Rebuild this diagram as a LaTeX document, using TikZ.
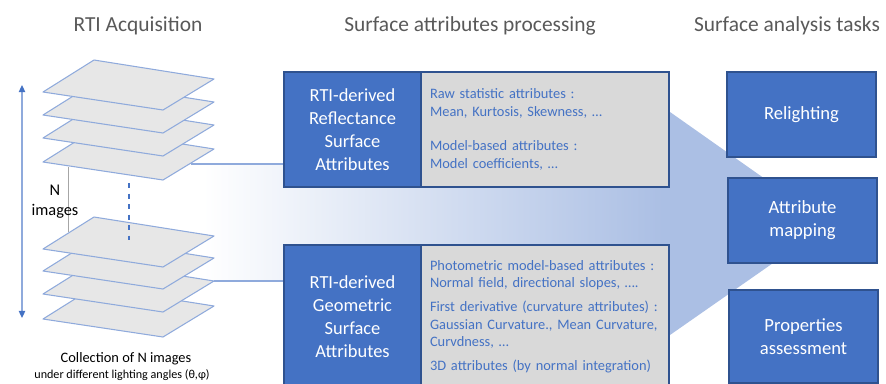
\documentclass[tikz,border=0pt]{standalone}
\usepackage{fontspec}
\setmainfont{Carlito}
\usepackage{tikz}
\usetikzlibrary{arrows.meta,positioning,calc}
\definecolor{boxblue}{HTML}{4472C4}
\definecolor{edgeblue}{HTML}{2F528F}
\definecolor{lineblue}{HTML}{8FAADC}
\definecolor{bandblue}{HTML}{ABBFE4}
\definecolor{boxgray}{HTML}{D9D9D9}
\definecolor{sheetgray}{HTML}{E7E7E7}
\definecolor{titlegray}{HTML}{595959}
\definecolor{guidegray}{HTML}{A6A6A6}
\pgfdeclarehorizontalshading{bandshade}{100bp}{color(0bp)=(white); color(26bp)=(white); color(62bp)=(bandblue); color(100bp)=(bandblue)}

\begin{document}
\begin{tikzpicture}[
 x=0.02cm,y=-0.02cm,
 heading/.style={font=\fontsize{12.2}{14}\selectfont,text=titlegray},
 family/.style={draw=edgeblue,line width=0.6pt,fill=boxblue,text=white,align=center,minimum width=2.74cm,font=\fontsize{10.5}{13}\selectfont},
 attrlist/.style={draw=edgeblue,line width=0.6pt,fill=boxgray,text=boxblue,align=left,text width=4.6cm,inner xsep=0.18cm,font=\fontsize{8.2}{10.4}\selectfont},
 task/.style={draw=edgeblue,line width=0.6pt,fill=boxblue,text=white,align=center,minimum width=2.98cm,minimum height=1.7cm,font=\fontsize{10.6}{13}\selectfont},
 sheet/.style={draw=lineblue,line width=0.6pt,fill=sheetgray,line join=round},
 link/.style={draw=lineblue,line width=0.7pt}
]
\useasboundingbox (0,0) rectangle (886,383);
\clip (0,0) rectangle (886,383);

\node[heading] (hacq) at (138,26) {RTI Acquisition};
\node[heading] (hproc) at (470,26) {Surface attributes processing};
\node[heading] (htask) at (787,26) {Surface analysis tasks};

% big arrow towards the tasks
\shade[shading=bandshade] (190,164) -- (670,164) -- (670,112) -- (829,224)
  -- (670,335) -- (670,281) -- (190,281) -- cycle;

\coordinate (topout) at (191,164);
\coordinate (botout) at (214,281);

% image stacks
\foreach \y in {162,138,115,92}
  \filldraw[sheet] (43,\y) -- ++(51,-32) -- ++(120,19) -- ++(-51,31) -- cycle;
\foreach \y in {319,294,271,249}
  \filldraw[sheet] (43,\y) -- ++(51,-32) -- ++(120,19) -- ++(-51,31) -- cycle;

\coordinate (ntop) at (22,85);
\coordinate (nbot) at (22,318);
\draw[draw=lineblue,line width=0.7pt,{Triangle[color=boxblue,length=4pt,width=3.6pt]}-{Triangle[color=boxblue,length=4pt,width=3.6pt]}] (ntop) -- (nbot);
\coordinate (gtop) at (68,167);
\coordinate (gbot) at (68,232);
\draw[guidegray,line width=0.5pt] (gtop) -- (gbot);
\node[font=\fontsize{9.3}{11.3}\selectfont,align=center] (nimg) at (55,202) {N\\images};
\coordinate (dtop) at (129,183);
\coordinate (dbot) at (129,240);
\draw[boxblue,line width=1.1pt,dash pattern=on 3pt off 3pt] (dtop) -- (dbot);

\node[font=\fontsize{8.2}{10}\selectfont] (coll) at (126,359) {Collection of N images};
\node[font=\fontsize{6.9}{8}\selectfont] (angles) at (122,375) {under different lighting angles (θ,φ)};

% attribute families
\node[family,minimum height=2.3cm] (refl) at (352.5,129.5) {RTI-derived\\Reflectance\\Surface\\Attributes};
\node[attrlist,minimum height=2.3cm] (reflattr) at (545,129.5)
  {Raw statistic attributes :\\Mean, Kurtosis, Skewness, …\\[9pt]Model-based attributes :\\Model coefficients, …};
\node[family,minimum height=2.86cm] (geom) at (352.5,316.5) {RTI-derived\\Geometric\\Surface\\Attributes};
\node[attrlist,minimum height=2.86cm,font=\fontsize{8.2}{10}\selectfont] (geomattr) at (545,316.5)
  {Photometric model-based attributes :\\Normal field, directional slopes, ….\\[3.4pt]First derivative (curvature attributes) :\\Gaussian Curvature., Mean Curvature,\\Curvdness, …\\[3.4pt]3D attributes (by normal integration)};

\draw[link] (topout) -- (topout -| refl.west);
\draw[link] (botout) -- (botout -| geom.west);

% tasks
\node[task] (relight) at (801.5,114.5) {Relighting};
\node[task] (attrmap) at (802.5,220.5) {Attribute\\mapping};
\node[task,minimum height=1.86cm] (props) at (803.5,336.5) {Properties\\assessment};
\end{tikzpicture}
\end{document}
